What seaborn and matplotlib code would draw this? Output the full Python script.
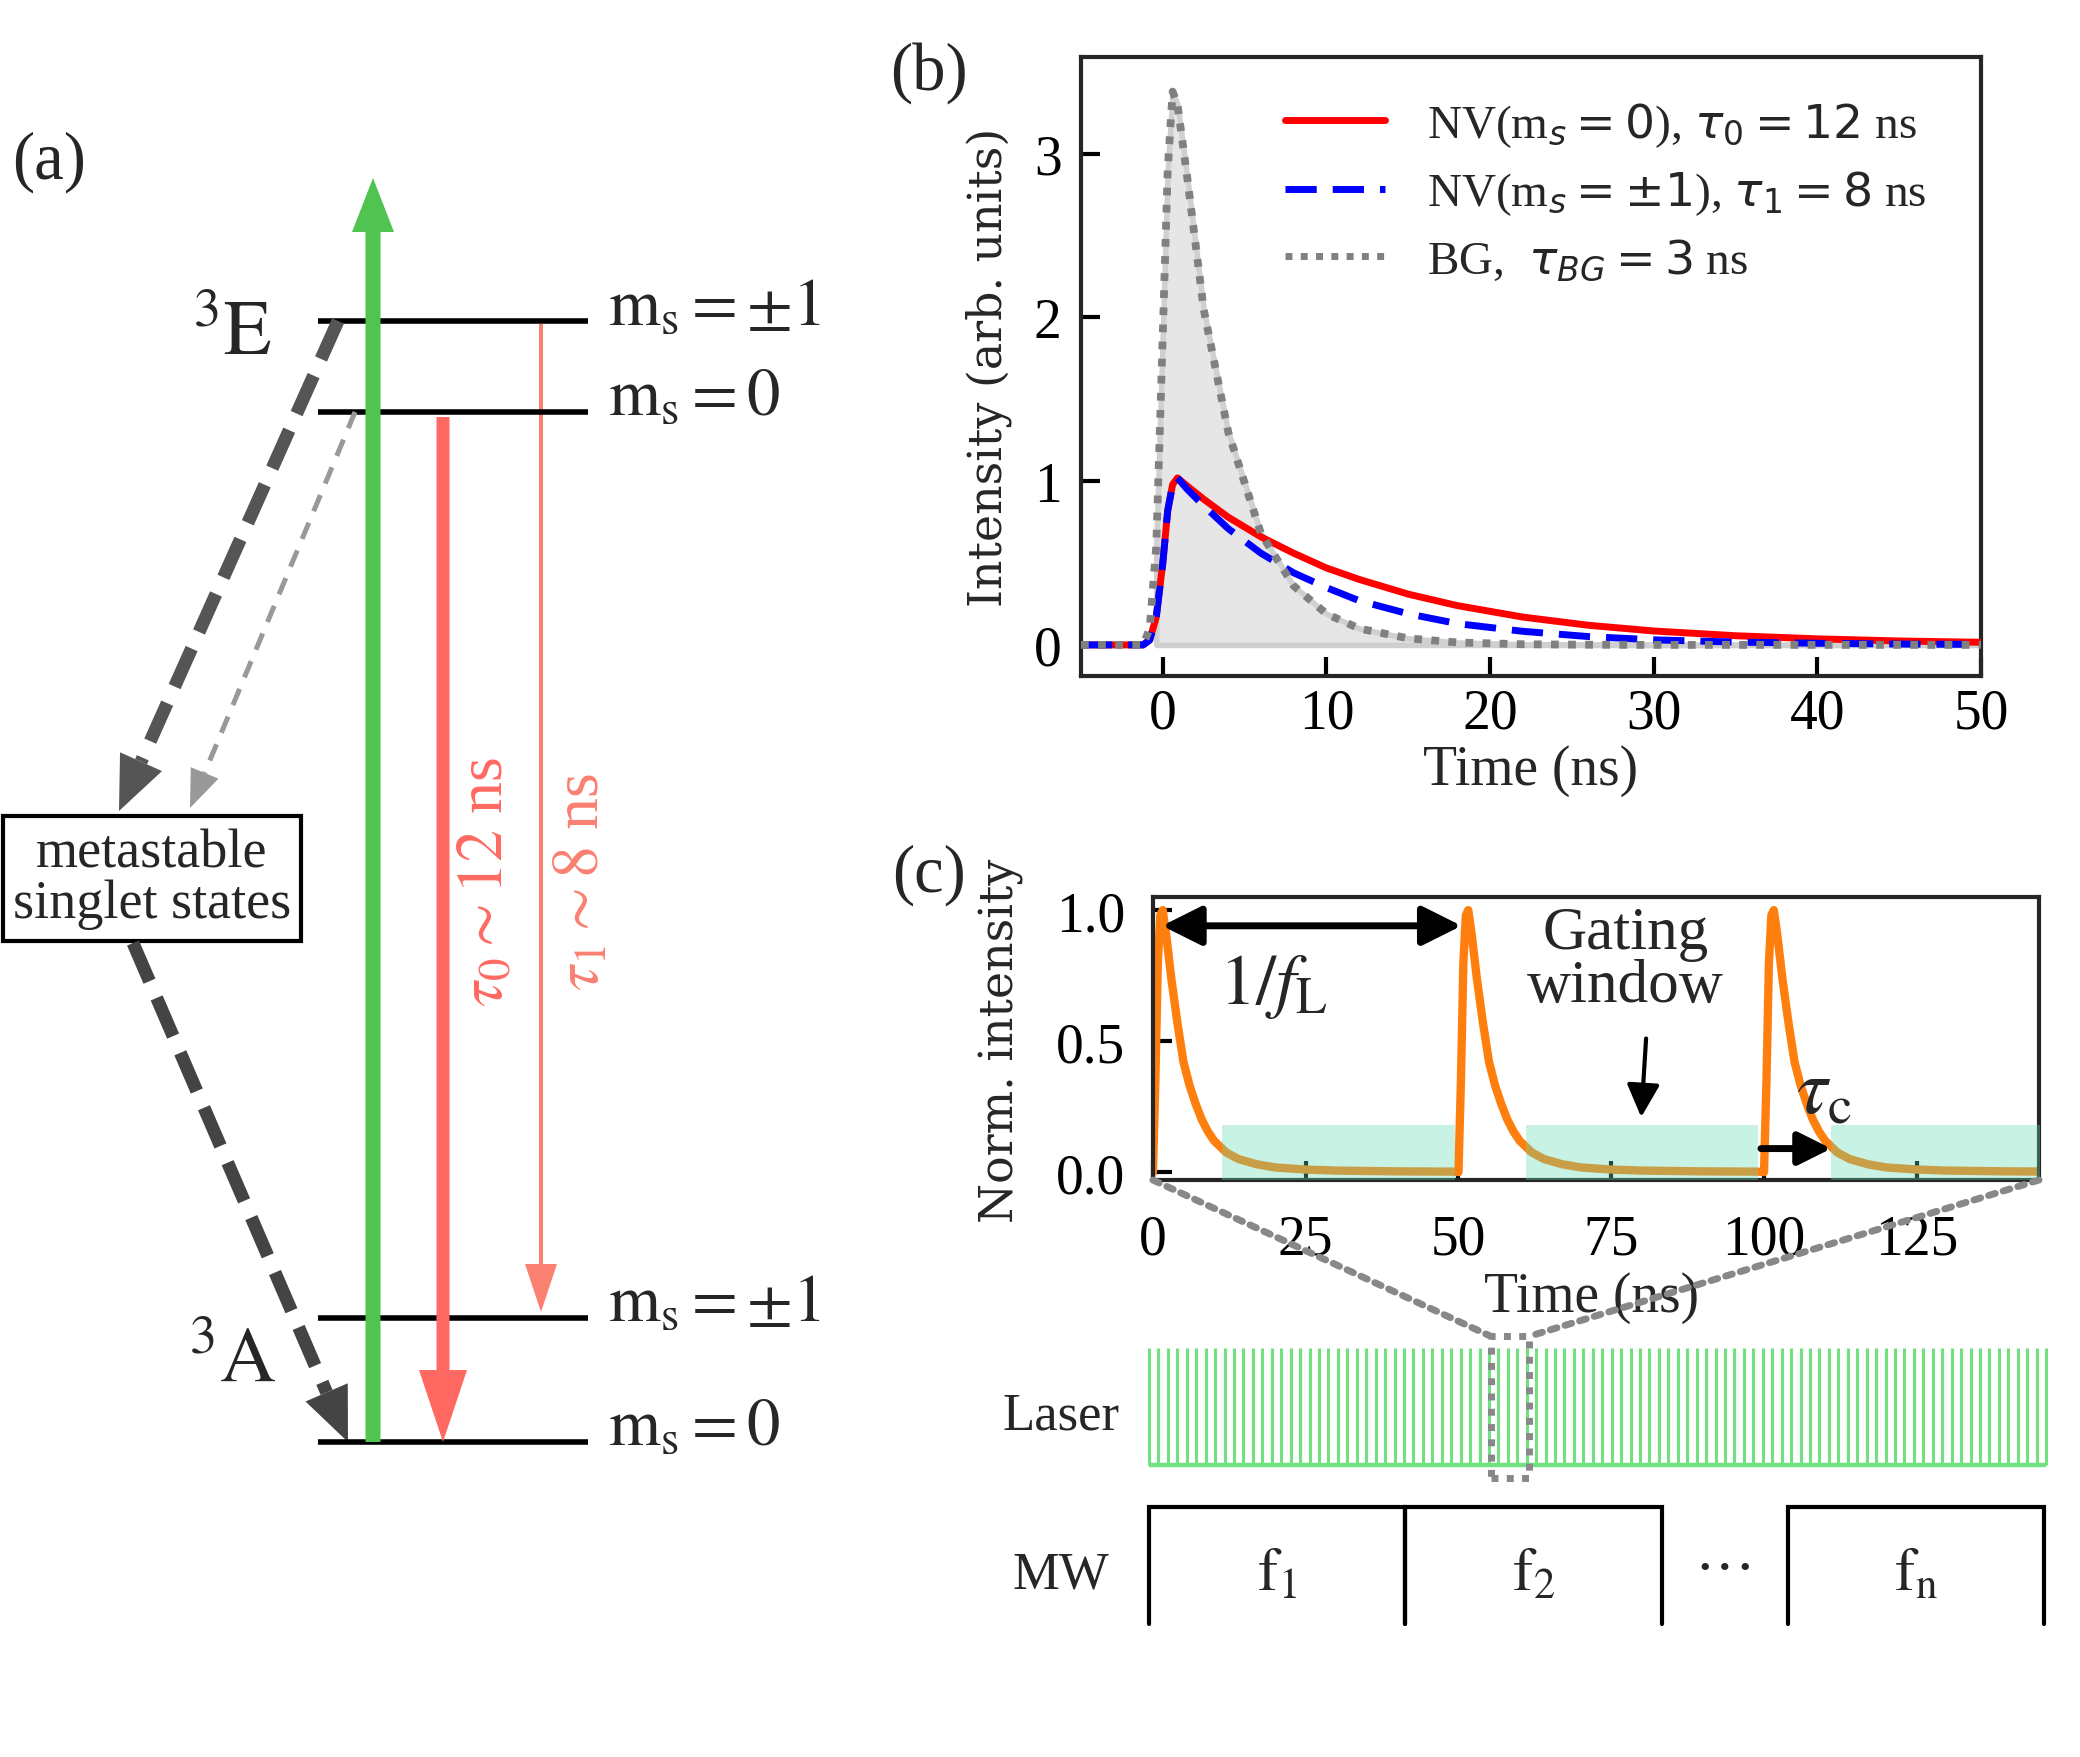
import numpy as np
import pandas as pd
import matplotlib
matplotlib.use("Agg")
import matplotlib.pyplot as plt
from matplotlib.patches import Rectangle, ConnectionPatch
import seaborn as sns

# ---- panel (b): decay curves ----
t_b = [-5, -2, -1.2, -0.8, -0.4, 0, 0.3, 0.6, 0.9, 1.5, 2.5, 4, 6, 8, 10,
       12, 15, 18, 22, 26, 30, 35, 40, 45, 50]
nv0 = [0, 0, 0, 0.03, 0.17, 0.5, 0.82, 0.98, 1.02, 0.97, 0.89, 0.78, 0.66,
       0.56, 0.47, 0.40, 0.31, 0.24, 0.17, 0.12, 0.085, 0.056, 0.037, 0.024, 0.016]
nv1 = [0, 0, 0, 0.03, 0.17, 0.5, 0.82, 0.98, 1.02, 0.95, 0.85, 0.71, 0.56,
       0.44, 0.35, 0.27, 0.19, 0.13, 0.083, 0.051, 0.031, 0.017, 0.01, 0.005, 0.003]
bg = [0, 0, 0, 0.1, 0.6, 1.9, 2.9, 3.38, 3.3, 2.85, 2.05, 1.3, 0.68,
      0.36, 0.19, 0.1, 0.04, 0.015, 0.004, 0.001, 0, 0, 0, 0, 0]
labels_b = [r'NV(m$_s = 0$), $\tau_0 = 12$ ns',
            r'NV(m$_s = \pm 1$), $\tau_1 = 8$ ns',
            r'BG,  $\tau_{BG} = 3$ ns']

# ---- panel (c): one pulse shape, repeated every laser period ----
pulse_dt = [0, 0.4, 0.8, 1.2, 1.6, 2.2, 3, 4, 5, 6, 7, 8, 9, 10, 12, 14,
            17, 20, 25, 30, 40, 49]
pulse_val = [0, 0.35, 0.8, 0.98, 1.0, 0.9, 0.74, 0.57, 0.42, 0.33, 0.26,
             0.2, 0.155, 0.12, 0.075, 0.05, 0.03, 0.018, 0.01, 0.006, 0.003, 0.002]
pulse_starts = [0, 50, 100]
gates = [(11.3, 49.5), (61, 99), (111, 146)]

# ---- laser / MW sequence ----
laser_period = 50
n_laser = 96
mw_boxes = [(0.0, 0.285), (0.285, 0.572), (0.712, 0.998)]
mw_labels = [r'$\mathrm{f_1}$', r'$\mathrm{f_2}$', r'$\mathrm{f_n}$']

sns.set_style("ticks")
plt.rcParams['font.family'] = ['Liberation Serif', 'DejaVu Serif']
plt.rcParams['mathtext.fontset'] = 'dejavusans'
plt.rcParams['axes.linewidth'] = 1.5
for a in ('xtick', 'ytick'):
    plt.rcParams[a + '.direction'] = 'in'
    plt.rcParams[a + '.major.size'] = 7
    plt.rcParams[a + '.major.width'] = 1.5
    plt.rcParams[a + '.labelsize'] = 20
    plt.rcParams[a + '.color'] = 'black'

fig = plt.figure(figsize=(10.4, 8.79), dpi=200)

# full-figure canvas in pixel units for the level diagram
cv = fig.add_axes([0, 0, 1, 1], zorder=0)
cv.set_xlim(0, 2080)
cv.set_ylim(1758, 0)
cv.axis('off')

# ---------------- (a) ----------------
levels = [322, 413, 1319, 1443]
cv.hlines(levels, 318, 588, color='black', lw=2, zorder=2)
ms_text = [r'$\mathrm{m_s} = \pm 1$', r'$\mathrm{m_s} = 0$',
           r'$\mathrm{m_s} = \pm 1$', r'$\mathrm{m_s} = 0$']
for yl, s in zip(levels, ms_text):
    cv.text(608, yl - 14, s, fontsize=24, va='center', ha='left', math_fontfamily='stix')
cv.text(232, 336, r'$^3\mathrm{E}$', fontsize=28, ha='center', va='center', math_fontfamily='stix')
cv.text(232, 1362, r'$^3\mathrm{A}$', fontsize=28, ha='center', va='center', math_fontfamily='stix')

cv.arrow(373, 1443, 0, 179 - 1443, width=15, head_width=42, head_length=54,
         length_includes_head=True, color='#50c350', lw=0, zorder=3)
cv.arrow(443, 418, 0, 1443 - 418, width=13, head_width=48, head_length=72,
         length_includes_head=True, color='#ff6961', lw=0, zorder=3)
cv.arrow(541, 325, 0, 1313 - 325, width=4, head_width=32, head_length=48,
         length_includes_head=True, color='#fa8072', lw=0, zorder=1)
cv.text(487, 882, r'$\tau_0 \sim 12$ ns', rotation=90, fontsize=23, color='#ff6961',
        ha='center', va='center', math_fontfamily='stix')
cv.text(584, 882, r'$\tau_1 \sim 8$ ns', rotation=90, fontsize=23, color='#fa8072',
        ha='center', va='center', math_fontfamily='stix')


def dashed_arrow(p0, p1, lw_px, color, dash, hw, hl):
    p0 = np.array(p0, float)
    p1 = np.array(p1, float)
    u = (p1 - p0) / np.hypot(*(p1 - p0))
    pb = p1 - u * hl
    cv.plot([p0[0], pb[0]], [p0[1], pb[1]], color=color, lw=lw_px * 0.36,
            linestyle=(0, dash), solid_capstyle='butt', dash_capstyle='butt')
    cv.arrow(pb[0], pb[1], *(u * hl), width=0, head_width=hw, head_length=hl,
             length_includes_head=True, color=color, lw=0)


dashed_arrow((338, 322), (119, 812), 13, '#555555', (3.2, 1.4), 46, 54)
dashed_arrow((355, 413), (190, 809), 5, '#999999', (3.5, 2.5), 30, 38)
dashed_arrow((133, 944), (348, 1443), 13, '#444444', (3.2, 1.4), 46, 54)

cv.add_patch(Rectangle((3, 817), 298, 125, fill=False, lw=1.5, ec='black'))
cv.text(152, 880, 'metastable\nsinglet states', fontsize=19.5, ha='center', va='center',
        linespacing=1.0)

cv.text(49, 162, '(a)', fontsize=24, ha='center', va='center')
cv.text(929, 73, '(b)', fontsize=24, ha='center', va='center')
cv.text(929, 875, '(c)', fontsize=24, ha='center', va='center')

# ---------------- (b) ----------------
ax_b = fig.add_axes([0.5197, 0.6149, 0.4327, 0.352])
ax_b.fill_between(t_b, bg, 0, where=np.array(t_b) >= -0.6, color='#e6e6e6',
                  ec='#d0d0d0', lw=2, zorder=1)
sns.lineplot(x=t_b, y=nv0, ax=ax_b, color='red', lw=2.5, label=labels_b[0], zorder=3)
sns.lineplot(x=t_b, y=nv1, ax=ax_b, color='blue', lw=2.5, linestyle=(0, (4.5, 2.3)),
             label=labels_b[1], zorder=4)
sns.lineplot(x=t_b, y=bg, ax=ax_b, color='#808080', lw=2.8, linestyle=(0, (1, 1.2)),
             label=labels_b[2], zorder=5)
ax_b.set_xlim(-5, 50)
ax_b.set_ylim(-0.19, 3.59)
ax_b.set_xticks([0, 10, 20, 30, 40, 50])
ax_b.set_yticks([0, 1, 2, 3])
ax_b.tick_params(axis='x', pad=4)
ax_b.tick_params(axis='y', pad=7)
ax_b.set_xlabel('Time (ns)', fontsize=20)
ax_b.set_ylabel('Intensity (arb. units)', fontsize=16.5, fontfamily='DejaVu Serif')
ax_b.xaxis.set_label_coords(0.5, -0.11)
ax_b.yaxis.set_label_coords(-0.077, 0.5)
leg = ax_b.legend(loc='upper left', bbox_to_anchor=(0.18, 1.0), frameon=False,
                  fontsize=17, handlelength=2.1, labelspacing=0.42, handletextpad=0.9)
for ln in leg.get_lines():
    ln.set_linewidth(2.5)

# ---------------- (c) ----------------
t_c, i_c = [], []
for s0 in pulse_starts:
    t_c += [s0 + d for d in pulse_dt]
    i_c += pulse_val
ax_c = fig.add_axes([0.5543, 0.3282, 0.426, 0.161])
sns.lineplot(x=t_c, y=i_c, ax=ax_c, color='#ff7f0e', lw=3, zorder=2)
for g0, g1 in gates:
    ax_c.fill_between([g0, g1], -0.03, 0.18, color='#62dab2', alpha=0.35, lw=0, zorder=3)
ax_c.set_xlim(0, 145)
ax_c.set_ylim(-0.03, 1.05)
ax_c.set_xticks([0, 25, 50, 75, 100, 125])
ax_c.set_yticks([0.0, 0.5, 1.0])
ax_c.set_yticklabels(['0.0', '0.5', '1.0'])
ax_c.tick_params(axis='x', pad=12)
ax_c.tick_params(axis='y', pad=10)
ax_c.set_xlabel('Time (ns)', fontsize=20)
ax_c.set_ylabel('Norm. intensity', fontsize=16.5, fontfamily='DejaVu Serif')
ax_c.xaxis.set_label_coords(0.495, -0.32)
ax_c.yaxis.set_label_coords(-0.146, 0.495)
ax_c.annotate('', xy=(1.5, 0.94), xytext=(50.5, 0.94),
              arrowprops=dict(arrowstyle='<|-|>', lw=2.5, color='black',
                              mutation_scale=30, shrinkA=0, shrinkB=0))
ax_c.text(19.7, 0.71, r'$1/f_{\rm L}$', fontsize=26, ha='center', va='center',
          math_fontfamily='stix')
ax_c.text(77.3, 0.81, 'Gating\nwindow', fontsize=22, ha='center', va='center',
          linespacing=0.95)
ax_c.annotate('', xy=(79.9, 0.21), xytext=(80.7, 0.51),
              arrowprops=dict(arrowstyle='-|>', lw=1.5, color='black',
                              mutation_scale=25, shrinkA=0, shrinkB=0))
ax_c.annotate('', xy=(111, 0.09), xytext=(99.5, 0.09),
              arrowprops=dict(arrowstyle='-|>', lw=2.5, color='black',
                              mutation_scale=25, shrinkA=0, shrinkB=0))
ax_c.text(109.8, 0.30, r'$\tau_{\rm c}$', fontsize=28, ha='center', va='center',
          math_fontfamily='stix')

# ---------------- laser / MW ----------------
ax_l = fig.add_axes([0.5524, 0.166, 0.4313, 0.0666])
pulse_t = np.arange(n_laser) * laser_period
ax_l.vlines(pulse_t, 0, 1, color='#70e080', lw=1.1, clip_on=False)
ax_l.hlines(0, pulse_t[0], pulse_t[-1], color='#70e080', lw=1.6, clip_on=False)
ax_l.set_xlim(pulse_t[0], pulse_t[-1])
ax_l.set_ylim(0, 1)
ax_l.axis('off')
zb0, zb1 = 1811, 2012
ax_l.add_patch(Rectangle((zb0, -0.11), zb1 - zb0, 1.21, fill=False, ec='#888888',
                         lw=2.5, ls=(0, (1, 1.2)), clip_on=False, zorder=5))
for xa, xb in ((0, zb0), (1, zb1)):
    con = ConnectionPatch(xyA=(xa, 0), coordsA=ax_c.transAxes, xyB=(xb, 1.1),
                          coordsB=ax_l.transData, color='#888888', lw=2.5,
                          ls=(0, (1, 1.2)), zorder=6)
    fig.add_artist(con)
cv.text(1061, 1417, 'Laser', fontsize=19, ha='center', va='center')

ax_m = fig.add_axes([0.5524, 0.0757, 0.4313, 0.0666])
for (m0, m1), lab in zip(mw_boxes, mw_labels):
    ax_m.plot([m0, m0, m1, m1], [0, 1, 1, 0], color='black', lw=1.5,
              solid_joinstyle='miter', clip_on=False)
    ax_m.text((m0 + m1) / 2, 0.42, lab, fontsize=22, ha='center', va='center',
              math_fontfamily='stix')
ax_m.text((mw_boxes[1][1] + mw_boxes[2][0]) / 2, 0.45, '···', fontsize=22,
          ha='center', va='center')
ax_m.set_xlim(0, 1)
ax_m.set_ylim(0, 1)
ax_m.axis('off')
cv.text(1061, 1576, 'MW', fontsize=19, ha='center', va='center')

fig.savefig('out.png', dpi=200)
